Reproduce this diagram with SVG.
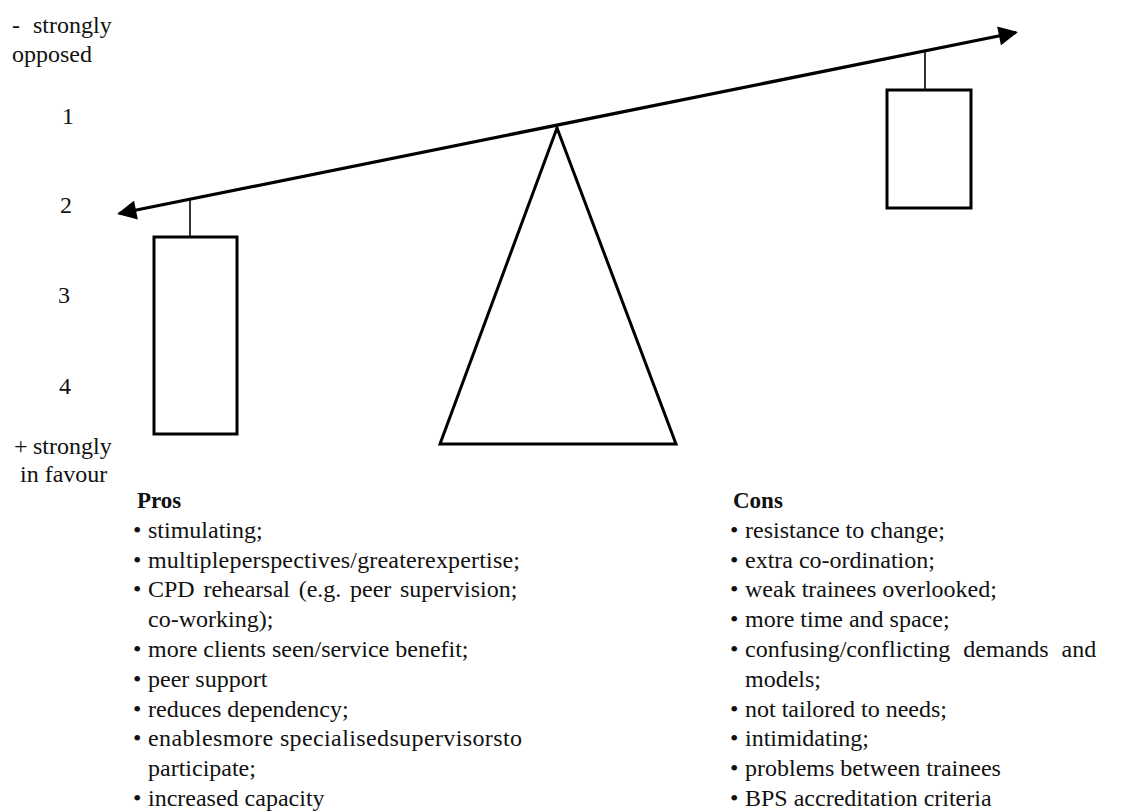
<svg xmlns="http://www.w3.org/2000/svg" width="1121" height="812" viewBox="0 0 1121 812">
  <defs>
    <marker id="head" viewBox="0 0 10 10" refX="9" refY="5" markerWidth="6.5" markerHeight="6" markerUnits="strokeWidth" orient="auto-start-reverse">
      <path d="M0,0 L10,5 L0,10 Z" fill="#000"/>
    </marker>
    <style>
      .lbl { font-family: "Liberation Serif", "Times New Roman", serif; font-size: 24px; fill: #111; }
      .hd { font-family: "Liberation Serif", "Times New Roman", serif; font-size: 23px; font-weight: bold; fill: #111; }
      .shape { fill: #fff; stroke: #000; stroke-width: 3; }
      .hang { stroke: #000; stroke-width: 1.6; }
      .beam { stroke: #000; stroke-width: 3.2; fill: none; }
    </style>
  </defs>
  <rect width="1121" height="812" fill="#fff"/>

  <!-- scale labels on the left -->
  <g id="scale" class="lbl">
    <text x="12" y="33">-</text><text x="33" y="33">strongly</text>
    <text x="12" y="62">opposed</text>
    <text x="62" y="124">1</text>
    <text x="60" y="213">2</text>
    <text x="58" y="303">3</text>
    <text x="59" y="394">4</text>
    <text x="14" y="454">+</text><text x="33" y="454">strongly</text>
    <text x="20" y="482">in favour</text>
  </g>

  <!-- tilted beam with arrowheads at both ends -->
  <g id="connectors">
    <line class="beam" x1="119" y1="213.5" x2="1016" y2="32.5" marker-start="url(#head)" marker-end="url(#head)"/>
    <line class="hang" x1="190" y1="199" x2="190" y2="237"/>
    <line class="hang" x1="925" y1="51" x2="925" y2="90"/>
  </g>

  <!-- fulcrum -->
  <g id="fulcrum">
    <polygon class="shape" points="557,128 676,444 440,444"/>
  </g>

  <!-- left weight (pros) -->
  <g id="weight-pros">
    <rect class="shape" x="154" y="237" width="83" height="197"/>
  </g>

  <!-- right weight (cons) -->
  <g id="weight-cons">
    <rect class="shape" x="887" y="90" width="84" height="118"/>
  </g>

  <!-- pros list -->
  <g id="pros">
    <text class="hd" x="137" y="508">Pros</text>
    <g class="lbl">
      <text x="133" y="538">•</text><text x="148" y="538">stimulating;</text>
      <text x="133" y="568">•</text><text x="148" y="568" textLength="372" lengthAdjust="spacing">multipleperspectives/greaterexpertise;</text>
      <text x="133" y="597">•</text><text x="148" y="597" word-spacing="2.7">CPD rehearsal (e.g. peer supervision;</text>
      <text x="148" y="627">co-working);</text>
      <text x="133" y="657">•</text><text x="148" y="657">more clients seen/service benefit;</text>
      <text x="133" y="687">•</text><text x="148" y="687">peer support</text>
      <text x="133" y="717">•</text><text x="148" y="717">reduces dependency;</text>
      <text x="133" y="746">•</text><text x="148" y="746" textLength="374" lengthAdjust="spacing">enablesmore specialisedsupervisorsto</text>
      <text x="148" y="776">participate;</text>
      <text x="133" y="806">•</text><text x="148" y="806">increased capacity</text>
    </g>
  </g>

  <!-- cons list -->
  <g id="cons">
    <text class="hd" x="733" y="508">Cons</text>
    <g class="lbl">
      <text x="730" y="538">•</text><text x="745" y="538">resistance to change;</text>
      <text x="730" y="568">•</text><text x="745" y="568">extra co-ordination;</text>
      <text x="730" y="597">•</text><text x="745" y="597">weak trainees overlooked;</text>
      <text x="730" y="627">•</text><text x="745" y="627">more time and space;</text>
      <text x="730" y="657">•</text><text x="745" y="657" word-spacing="7">confusing/conflicting demands and</text>
      <text x="745" y="687">models;</text>
      <text x="730" y="717">•</text><text x="745" y="717">not tailored to needs;</text>
      <text x="730" y="746">•</text><text x="745" y="746">intimidating;</text>
      <text x="730" y="776">•</text><text x="745" y="776">problems between trainees</text>
      <text x="730" y="806">•</text><text x="745" y="806">BPS accreditation criteria</text>
    </g>
  </g>
</svg>
